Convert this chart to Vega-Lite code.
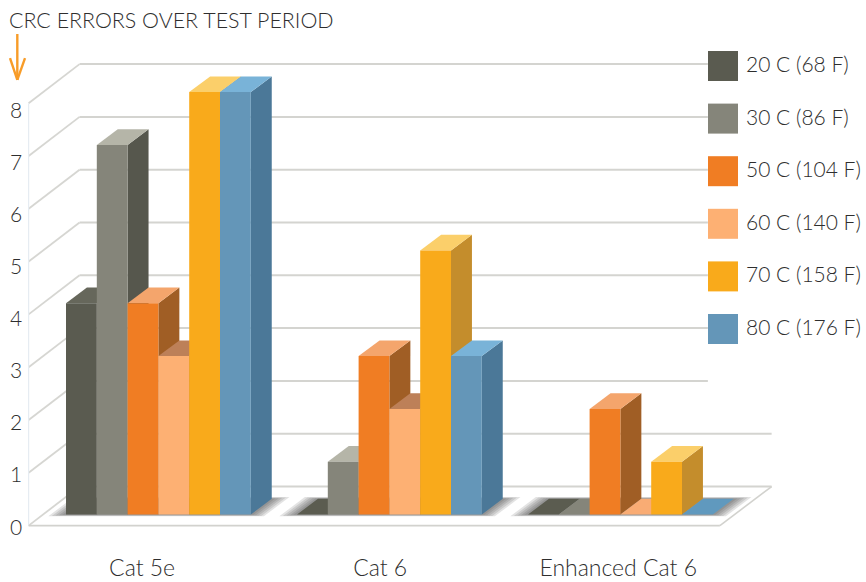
{
  "$schema": "https://vega.github.io/schema/vega-lite/v6.json",
  "width": 866,
  "height": 582,
  "padding": 0,
  "autosize": "none",
  "background": "white",
  "title": {"text": "CRC ERRORS OVER TEST PERIOD", "anchor": "start", "frame": "group", "dx": 9, "offset": -32, "font": "Lato", "fontSize": 21.4, "fontWeight": 300, "color": "#2e2e2e"},
  "config": {
    "view": {"stroke": null},
    "axis": {"disable": true}
  },
  "resolve": {"scale": {"color": "independent"}},
  "datasets": {
    "readings": [
      {"cable": "Cat 5e", "temp": "20 C (68 F)", "errors": 4},
      {"cable": "Cat 5e", "temp": "30 C (86 F)", "errors": 7},
      {"cable": "Cat 5e", "temp": "50 C (104 F)", "errors": 4},
      {"cable": "Cat 5e", "temp": "60 C (140 F)", "errors": 3},
      {"cable": "Cat 5e", "temp": "70 C (158 F)", "errors": 8},
      {"cable": "Cat 5e", "temp": "80 C (176 F)", "errors": 8},
      {"cable": "Cat 6", "temp": "20 C (68 F)", "errors": 0},
      {"cable": "Cat 6", "temp": "30 C (86 F)", "errors": 1},
      {"cable": "Cat 6", "temp": "50 C (104 F)", "errors": 3},
      {"cable": "Cat 6", "temp": "60 C (140 F)", "errors": 2},
      {"cable": "Cat 6", "temp": "70 C (158 F)", "errors": 5},
      {"cable": "Cat 6", "temp": "80 C (176 F)", "errors": 3},
      {"cable": "Enhanced Cat 6", "temp": "20 C (68 F)", "errors": 0},
      {"cable": "Enhanced Cat 6", "temp": "30 C (86 F)", "errors": 0},
      {"cable": "Enhanced Cat 6", "temp": "50 C (104 F)", "errors": 2},
      {"cable": "Enhanced Cat 6", "temp": "60 C (140 F)", "errors": 0},
      {"cable": "Enhanced Cat 6", "temp": "70 C (158 F)", "errors": 1},
      {"cable": "Enhanced Cat 6", "temp": "80 C (176 F)", "errors": 0}
    ],
    "levels": [
      {"level": 0}, {"level": 1}, {"level": 2}, {"level": 3}, {"level": 4},
      {"level": 5}, {"level": 6}, {"level": 7}, {"level": 8}
    ],
    "cables": [
      {"cable": "Cat 5e"}, {"cable": "Cat 6"}, {"cable": "Enhanced Cat 6"}
    ],
    "single": [{"piece": "frame"}]
  },
  "layer": [
    {
      "data": {"name": "levels"},
      "mark": {"type": "rule", "color": "#d6d6d2", "strokeWidth": 1.8},
      "transform": [
        {"calculate": "datum.level - 0.21", "as": "frontY"},
        {"calculate": "datum.level + 0.53", "as": "backY"},
        {"calculate": "-1.214", "as": "frontX"},
        {"calculate": "0.44", "as": "backX"}
      ],
      "encoding": {
        "x": {"field": "frontX", "type": "quantitative", "scale": {"domain": [-2.143, 25.974], "nice": false, "zero": false}},
        "x2": {"field": "backX"},
        "y": {"field": "frontY", "type": "quantitative", "scale": {"domain": [-1.278, 9.744], "nice": false, "zero": false}},
        "y2": {"field": "backY"}
      }
    },
    {
      "data": {"name": "levels"},
      "mark": {"type": "rule", "color": "#d4d4d0", "strokeWidth": 2},
      "transform": [
        {"calculate": "datum.level + 0.53", "as": "backY"},
        {"calculate": "0.44", "as": "backX"},
        {"calculate": "datum.level < 2 ? 22.91 : 20.84", "as": "backEnd"}
      ],
      "encoding": {
        "x": {"field": "backX", "type": "quantitative", "scale": {"domain": [-2.143, 25.974], "nice": false, "zero": false}},
        "x2": {"field": "backEnd"},
        "y": {"field": "backY", "type": "quantitative", "scale": {"domain": [-1.278, 9.744], "nice": false, "zero": false}}
      }
    },
    {
      "data": {"name": "single"},
      "mark": {"type": "rule", "color": "#e6ecf2", "strokeWidth": 1.2},
      "transform": [
        {"calculate": "-1.214", "as": "px"},
        {"calculate": "-0.21", "as": "py"},
        {"calculate": "7.79", "as": "py2"}
      ],
      "encoding": {
        "x": {"field": "px", "type": "quantitative", "scale": {"domain": [-2.143, 25.974], "nice": false, "zero": false}},
        "y": {"field": "py", "type": "quantitative", "scale": {"domain": [-1.278, 9.744], "nice": false, "zero": false}},
        "y2": {"field": "py2"}
      }
    },
    {
      "data": {"name": "single"},
      "mark": {"type": "rule", "color": "#d2d2ce", "strokeWidth": 1.8},
      "transform": [
        {"calculate": "-1.214", "as": "px"},
        {"calculate": "21.23", "as": "px2"},
        {"calculate": "-0.21", "as": "py"}
      ],
      "encoding": {
        "x": {"field": "px", "type": "quantitative", "scale": {"domain": [-2.143, 25.974], "nice": false, "zero": false}},
        "x2": {"field": "px2"},
        "y": {"field": "py", "type": "quantitative", "scale": {"domain": [-1.278, 9.744], "nice": false, "zero": false}}
      }
    },
    {
      "data": {"name": "single"},
      "mark": {"type": "rule", "color": "#d2d2ce", "strokeWidth": 1.6},
      "transform": [
        {"calculate": "21.23", "as": "px"},
        {"calculate": "22.91", "as": "px2"},
        {"calculate": "-0.21", "as": "py"},
        {"calculate": "0.53", "as": "py2"}
      ],
      "encoding": {
        "x": {"field": "px", "type": "quantitative", "scale": {"domain": [-2.143, 25.974], "nice": false, "zero": false}},
        "x2": {"field": "px2"},
        "y": {"field": "py", "type": "quantitative", "scale": {"domain": [-1.278, 9.744], "nice": false, "zero": false}},
        "y2": {"field": "py2"}
      }
    },
    {
      "data": {"name": "cables"},
      "mark": {"type": "area", "orient": "horizontal", "color": "#3c3c3c", "opacity": 0.14},
      "transform": [
        {"calculate": "7.5 * indexof(['Cat 5e','Cat 6','Enhanced Cat 6'], datum.cable)", "as": "base"},
        {"calculate": "[0.5, 0.4, 0.3, 0.2, 0.1]", "as": "spread"},
        {"flatten": ["spread"]},
        {"calculate": "[0, 1]", "as": "t"},
        {"flatten": ["t"]},
        {"calculate": "datum.t * (1 + 2 * 0.22 * datum.spread) - 0.22 * datum.spread", "as": "depth"},
        {"calculate": "datum.base - datum.spread + datum.depth * 0.68", "as": "left"},
        {"calculate": "datum.base + 6 + datum.spread + datum.depth * 0.68", "as": "right"},
        {"calculate": "datum.depth * 0.297", "as": "lift"}
      ],
      "encoding": {
        "x": {"field": "left", "type": "quantitative", "scale": {"domain": [-2.143, 25.974], "nice": false, "zero": false}},
        "x2": {"field": "right"},
        "y": {"field": "lift", "type": "quantitative", "scale": {"domain": [-1.278, 9.744], "nice": false, "zero": false}},
        "detail": [{"field": "cable", "type": "nominal"}, {"field": "spread", "type": "nominal"}]
      }
    },
    {
      "data": {"name": "readings"},
      "mark": {"type": "area", "orient": "vertical"},
      "transform": [
        {"filter": "datum.errors > 0"},
        {"calculate": "7.5 * indexof(['Cat 5e','Cat 6','Enhanced Cat 6'], datum.cable) + indexof(['20 C (68 F)','30 C (86 F)','50 C (104 F)','60 C (140 F)','70 C (158 F)','80 C (176 F)'], datum.temp)", "as": "base"},
        {"calculate": "[0, 1]", "as": "t"},
        {"flatten": ["t"]},
        {"calculate": "datum.base + 1 + datum.t * 0.68", "as": "sideX"},
        {"calculate": "datum.t * 0.297", "as": "sideLow"},
        {"calculate": "datum.errors + datum.t * 0.297", "as": "sideHigh"}
      ],
      "encoding": {
        "x": {"field": "sideX", "type": "quantitative", "scale": {"domain": [-2.143, 25.974], "nice": false, "zero": false}},
        "y": {"field": "sideHigh", "type": "quantitative", "scale": {"domain": [-1.278, 9.744], "nice": false, "zero": false}},
        "y2": {"field": "sideLow"},
        "detail": {"field": "cable", "type": "nominal"},
        "color": {
          "field": "temp", "type": "nominal", "legend": null,
          "scale": {
            "domain": ["20 C (68 F)", "30 C (86 F)", "50 C (104 F)", "60 C (140 F)", "70 C (158 F)", "80 C (176 F)"],
            "range": ["#4f5047", "#56574d", "#a05e25", "#a86a3c", "#c48d2c", "#4b7898"]
          }
        }
      }
    },
    {
      "data": {"name": "readings"},
      "mark": {"type": "area", "orient": "horizontal"},
      "transform": [
        {"filter": "datum.errors > 0"},
        {"calculate": "7.5 * indexof(['Cat 5e','Cat 6','Enhanced Cat 6'], datum.cable) + indexof(['20 C (68 F)','30 C (86 F)','50 C (104 F)','60 C (140 F)','70 C (158 F)','80 C (176 F)'], datum.temp)", "as": "base"},
        {"calculate": "[0, 1]", "as": "t"},
        {"flatten": ["t"]},
        {"calculate": "datum.base + datum.t * 0.68", "as": "topLeft"},
        {"calculate": "datum.base + 1 + datum.t * 0.68", "as": "topRight"},
        {"calculate": "datum.errors + datum.t * 0.297", "as": "topY"}
      ],
      "encoding": {
        "x": {"field": "topLeft", "type": "quantitative", "scale": {"domain": [-2.143, 25.974], "nice": false, "zero": false}},
        "x2": {"field": "topRight"},
        "y": {"field": "topY", "type": "quantitative", "scale": {"domain": [-1.278, 9.744], "nice": false, "zero": false}},
        "detail": {"field": "cable", "type": "nominal"},
        "color": {
          "field": "temp", "type": "nominal", "legend": null,
          "scale": {
            "domain": ["20 C (68 F)", "30 C (86 F)", "50 C (104 F)", "60 C (140 F)", "70 C (158 F)", "80 C (176 F)"],
            "range": ["#66675b", "#b5b5a8", "#f4a56c", "#bd8058", "#fbcf6a", "#79b3d8"]
          }
        }
      }
    },
    {
      "data": {"name": "readings"},
      "mark": {"type": "area", "orient": "horizontal"},
      "transform": [
        {"filter": "datum.errors == 0"},
        {"calculate": "7.5 * indexof(['Cat 5e','Cat 6','Enhanced Cat 6'], datum.cable) + indexof(['20 C (68 F)','30 C (86 F)','50 C (104 F)','60 C (140 F)','70 C (158 F)','80 C (176 F)'], datum.temp)", "as": "base"},
        {"calculate": "[0, 1]", "as": "t"},
        {"flatten": ["t"]},
        {"calculate": "datum.base + datum.t * 0.68", "as": "topLeft"},
        {"calculate": "datum.base + 1 + datum.t * 0.68", "as": "topRight"},
        {"calculate": "datum.t * 0.297", "as": "topY"}
      ],
      "encoding": {
        "x": {"field": "topLeft", "type": "quantitative", "scale": {"domain": [-2.143, 25.974], "nice": false, "zero": false}},
        "x2": {"field": "topRight"},
        "y": {"field": "topY", "type": "quantitative", "scale": {"domain": [-1.278, 9.744], "nice": false, "zero": false}},
        "detail": {"field": "cable", "type": "nominal"},
        "color": {
          "field": "temp", "type": "nominal", "legend": null,
          "scale": {
            "domain": ["20 C (68 F)", "30 C (86 F)", "50 C (104 F)", "60 C (140 F)", "70 C (158 F)", "80 C (176 F)"],
            "range": ["#5b5c50", "#85857a", "#f07d23", "#f9ac74", "#f9aa1b", "#6099be"]
          }
        }
      }
    },
    {
      "data": {"name": "readings"},
      "mark": {"type": "rect"},
      "transform": [
        {"filter": "datum.errors > 0"},
        {"calculate": "7.5 * indexof(['Cat 5e','Cat 6','Enhanced Cat 6'], datum.cable) + indexof(['20 C (68 F)','30 C (86 F)','50 C (104 F)','60 C (140 F)','70 C (158 F)','80 C (176 F)'], datum.temp)", "as": "base"},
        {"calculate": "datum.base + 1", "as": "baseEnd"},
        {"calculate": "0", "as": "floor"}
      ],
      "encoding": {
        "x": {"field": "base", "type": "quantitative", "scale": {"domain": [-2.143, 25.974], "nice": false, "zero": false}},
        "x2": {"field": "baseEnd"},
        "y": {"field": "errors", "type": "quantitative", "scale": {"domain": [-1.278, 9.744], "nice": false, "zero": false}},
        "y2": {"field": "floor"},
        "color": {
          "field": "temp", "type": "nominal",
          "scale": {
            "domain": ["20 C (68 F)", "30 C (86 F)", "50 C (104 F)", "60 C (140 F)", "70 C (158 F)", "80 C (176 F)"],
            "range": ["#5a5b50", "#85857a", "#f07d23", "#fdb073", "#f9aa1b", "#6496b8"]
          },
          "legend": {
            "title": null, "orient": "none", "legendX": 708, "legendY": 51, "padding": 0,
            "symbolType": "square", "symbolSize": 900, "symbolStrokeWidth": 0,
            "labelFont": "Lato", "labelFontSize": 21, "labelFontWeight": 300, "labelColor": "#2e2e2e", "labelOffset": 8, "labelLimit": 160,
            "rowPadding": 22.6
          }
        }
      }
    },
    {
      "data": {"name": "levels"},
      "mark": {"type": "text", "font": "Lato", "fontSize": 21, "fontWeight": 300, "color": "#2e2e2e", "align": "center", "baseline": "middle"},
      "transform": [
        {"calculate": "datum.level * 0.985 - 0.265", "as": "labelY"},
        {"calculate": "-1.62", "as": "labelX"}
      ],
      "encoding": {
        "x": {"field": "labelX", "type": "quantitative", "scale": {"domain": [-2.143, 25.974], "nice": false, "zero": false}},
        "y": {"field": "labelY", "type": "quantitative", "scale": {"domain": [-1.278, 9.744], "nice": false, "zero": false}},
        "text": {"field": "level", "type": "quantitative"}
      }
    },
    {
      "data": {"name": "cables"},
      "mark": {"type": "text", "font": "Lato", "fontSize": 23, "fontWeight": 300, "color": "#2e2e2e", "align": "center", "baseline": "middle"},
      "transform": [
        {"calculate": "2.47 + 7.73 * indexof(['Cat 5e','Cat 6','Enhanced Cat 6'], datum.cable)", "as": "labelX"},
        {"calculate": "-1.03", "as": "labelY"}
      ],
      "encoding": {
        "x": {"field": "labelX", "type": "quantitative", "scale": {"domain": [-2.143, 25.974], "nice": false, "zero": false}},
        "y": {"field": "labelY", "type": "quantitative", "scale": {"domain": [-1.278, 9.744], "nice": false, "zero": false}},
        "text": {"field": "cable", "type": "nominal"}
      }
    },
    {
      "data": {"name": "single"},
      "mark": {"type": "rule", "color": "#f89c28", "strokeWidth": 2.4},
      "transform": [
        {"calculate": "-1.581", "as": "px"},
        {"calculate": "9.1", "as": "py"},
        {"calculate": "8.23", "as": "py2"}
      ],
      "encoding": {
        "x": {"field": "px", "type": "quantitative", "scale": {"domain": [-2.143, 25.974], "nice": false, "zero": false}},
        "y": {"field": "py", "type": "quantitative", "scale": {"domain": [-1.278, 9.744], "nice": false, "zero": false}},
        "y2": {"field": "py2"}
      }
    },
    {
      "data": {"values": [{"side": -1.818}, {"side": -1.331}]},
      "mark": {"type": "rule", "color": "#f89c28", "strokeWidth": 2.4},
      "transform": [
        {"calculate": "-1.581", "as": "px2"},
        {"calculate": "8.645", "as": "py"},
        {"calculate": "8.23", "as": "py2"}
      ],
      "encoding": {
        "x": {"field": "side", "type": "quantitative", "scale": {"domain": [-2.143, 25.974], "nice": false, "zero": false}},
        "x2": {"field": "px2"},
        "y": {"field": "py", "type": "quantitative", "scale": {"domain": [-1.278, 9.744], "nice": false, "zero": false}},
        "y2": {"field": "py2"}
      }
    }
  ]
}
